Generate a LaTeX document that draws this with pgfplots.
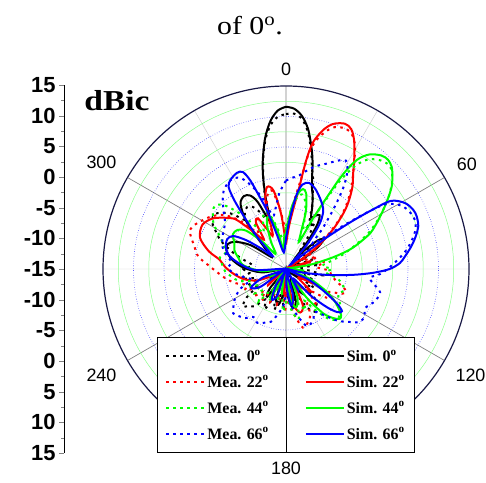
\documentclass[border=0pt]{standalone}
\usepackage{fontspec}
\setmainfont{Liberation Serif}
\setsansfont{Liberation Sans}
\usepackage{pgfplots}
\pgfplotsset{compat=1.18}
\usepgfplotslibrary{polar}
\definecolor{vgreen}{RGB}{0,255,0}
\definecolor{navy}{RGB}{25,25,70}
\pgfplotsset{
  mea/.style={smooth, line width=2bp, dash pattern=on 2.5bp off 4.5bp},
  sim/.style={smooth, line width=2bp},
}
\begin{document}
\begin{tikzpicture}
\useasboundingbox (0,0) rectangle (486bp,483bp);
\node[anchor=base, font=\fontsize{26}{26}\selectfont, xscale=1.15] at (250bp,448bp) {of 0\textsuperscript{o}.};
\node[anchor=base, font=\fontsize{29}{29}\selectfont\bfseries, xscale=1.16] at (117bp,372bp) {dBic};

% radial scale drawn beside the chart
\begin{axis}[
  at={(64bp,30bp)}, anchor=south west,
  scale only axis, width=1bp, height=368bp,
  xmin=0, xmax=1, ymin=0, ymax=60,
  hide x axis, axis y line*=left,
  ytick={0,5,...,60},
  yticklabels={15,10,5,0,-5,-10,-15,-10,-5,0,5,10,15},
  minor y tick num=1,
  tick align=outside,
  major tick length=5bp, minor tick length=3bp,
  y axis line style={line width=0.8bp},
  yticklabel style={font=\fontsize{22}{22}\selectfont\sffamily\bfseries},
]
\end{axis}

\begin{polaraxis}[
  at={(286bp,214bp)}, anchor=center,
  scale only axis, width=366bp, height=366bp,
  xmin=0, xmax=360, ymin=0, ymax=30,
  x filter/.expression={90-x},
  y filter/.expression={y+15},
  xtick={30,90,150,210,270,330},
  xticklabels={60,0,300,240,180,120},
  minor xtick={0,60,120,180,240,300},
  ytick={5,10,15,20,25},
  minor ytick={2.5,7.5,12.5,17.5,22.5,27.5},
  yticklabels={},
  grid=both,
  major x grid style={gray, line width=0.7bp},
  minor x grid style={gray!35, line width=0.5bp},
  major y grid style={blue, dotted, line width=0.6bp},
  minor y grid style={vgreen!45, line width=0.5bp},
  tick style={draw=none},
  x axis line style={draw=navy, line width=1.2bp},
  y axis line style={draw=none},
  xticklabel style={font=\fontsize{18}{18}\selectfont\sffamily, inner sep=10bp},
  legend columns=2,
  legend cell align=left,
  legend image code/.code={\draw[#1] (0bp,0bp) -- (38bp,0bp);},
  legend style={name=leg, at={(0.1475,-0.003)}, anchor=south west,
    draw=black, line width=0.8bp, fill=white,
    font=\fontsize{16}{16}\selectfont\bfseries,
    inner xsep=8bp, inner ysep=10bp, row sep=9bp,
    /tikz/every even column/.append style={column sep=34bp}},
]
\addplot[mea, black] coordinates {(0,10.4)(3,10.5)(6,9.8)(9,7.8)(12,4.8)(14.5,2)(16.5,0.6)(19,-1.5)(22,-3.5)(25,-5.5)(28,-7.4)(31,-6)(34,-8)(37,-11)(40,-9)(44,-12)(48,-9)(52,-10.5)(56,-13)(60,-11)(65,-14)(70,-10)(76,-12)(82,-9.5)(88,-13)(94,-11)(100,-9)(106,-12)(112,-10)(118,-13)(124,-9.5)(130,-11)(136,-8)(142,-7)(148,-6.7)(154,-9)(160,-12)(166,-8.5)(172,-10)(178,-13)(184,-9)(190,-11)(196,-8)(202,-10)(208,-7.5)(214,-9)(220,-7)(225,-6.5)(229,-5.6)(234,-7)(240,-9.5)(246,-8)(252,-10)(258,-7.5)(264,-9)(270,-8)(276,-9.5)(282,-8)(287,-6)(293,-3.5)(298,-2)(303,-0.5)(308,-0.3)(313,-1.5)(316,-2.5)(320,-4.5)(324,-3.5)(328,-3)(332,-3.5)(336,-5)(339,-6.5)(342,-5)(345,-1)(348,3)(351,6.5)(354,8.8)(357,10)(360,10.4)};
\addlegendentry{Mea. 0\textsuperscript{o}}
\addplot[sim, black] coordinates {(0,11.6)(3,11.3)(6,10.2)(9,8.2)(12,5.2)(14,3)(16,0.5)(18,-1.2)(20,-2.2)(23,-4)(26,-5.6)(29,-5)(32,-4.6)(35,-6)(38,-9)(41,-13)(44,-11)(48,-8)(52,-7.2)(56,-9)(60,-13)(65,-15)(75,-12)(85,-15)(100,-11.5)(112,-15)(125,-12)(135,-15)(148,-10.5)(156,-13)(163,-9.5)(170,-8.5)(176,-10.5)(181,-15)(186,-11)(192,-9)(198,-9.8)(205,-13)(214,-9.5)(220,-11)(228,-15)(240,-12)(250,-15)(262,-11)(272,-8)(280,-6)(287,-4.8)(293,-4.6)(298,-5.5)(304,-8)(310,-12)(315,-10)(320,-5)(325,-2)(330,-1.2)(334,-1.6)(337,-3)(340,-6)(342,-6.5)(344,-3)(346,0.5)(348,3.3)(351,6.8)(354,9.4)(357,11)(360,11.6)};
\addlegendentry{Sim. 0\textsuperscript{o}}
\addplot[mea, red] coordinates {(0,-9)(4,-6)(7,-3.5)(9.5,0)(11,4)(13,6.5)(16,8.4)(19,9.6)(23,10)(26,9.6)(29,8.3)(32,6.2)(35,4.2)(38,2.5)(41,0.8)(44,-1)(47,-3)(50,-5.5)(54,-8)(58,-10)(63,-12)(68,-9.5)(74,-11)(80,-8.5)(86,-10)(92,-8)(98,-7.5)(104,-6.4)(110,-4.5)(114,-5)(118,-7)(123,-6)(128,-8)(134,-10)(140,-7)(146,-9)(152,-6.5)(158,-5.5)(164,-5)(170,-7.5)(176,-10)(182,-8)(188,-11)(194,-9)(200,-12)(206,-9)(212,-11)(218,-8.5)(224,-10)(230,-8)(236,-9.5)(242,-7.5)(248,-8)(254,-6.5)(260,-5.2)(266,-4)(272,-2.5)(278,-0.5)(284,0.5)(289,1.5)(292,2)(296,1.6)(300,0.9)(305,0)(310,-1.2)(314,-2.8)(318,-5)(322,-7.5)(326,-6)(330,-5.5)(334,-7)(338,-9)(342,-5)(346,-2.5)(350,-2)(354,-5)(358,-8)(360,-9)};
\addlegendentry{Mea. 22\textsuperscript{o}}
\addplot[sim, red] coordinates {(0,-11)(4,-8)(7,-5)(9,-2)(10.5,3)(12,6.2)(15,8.6)(18,10)(22,10.7)(25,10.3)(28,8.8)(32,6.1)(35,4.2)(39,2.3)(43,0)(46,-2)(50,-5)(54,-8.5)(58,-12)(64,-15)(72,-11)(80,-13)(90,-15)(100,-12)(110,-14)(118,-10)(125,-12.5)(132,-9.5)(140,-11)(147,-13)(155,-8.5)(162,-7.5)(168,-9)(174,-13)(180,-10.5)(186,-11.5)(194,-15)(205,-12)(215,-15)(228,-11)(238,-13)(248,-10)(256,-8)(264,-6.5)(272,-5)(278,-4)(283,-2)(290,0)(298,0.5)(305,-0.5)(312,-2.5)(315,-3.7)(319,-7)(323,-9)(327,-6)(331,-5.5)(335,-8)(339,-9)(343,-3.5)(347,-1.2)(351,-2)(355,-6)(360,-11)};
\addlegendentry{Sim. 22\textsuperscript{o}}
\addplot[mea, vgreen] coordinates {(0,-8)(4,-6)(8,-3.5)(12,-2.5)(16,-3.5)(20,-6)(24,-8)(27,-7)(29.5,-3)(31.5,2)(34,5.5)(37,7.5)(41,8.6)(45,9)(48,8.4)(51,7.3)(54,6)(57,4.5)(60,3)(63,1.5)(66,0)(69,-1.8)(72,-3.5)(76,-5.5)(80,-7.5)(85,-9)(90,-7.5)(95,-8.5)(100,-6.5)(105,-5.5)(110,-4.8)(115,-5.5)(120,-5)(125,-4)(130,-3.5)(135,-3.2)(140,-4.5)(145,-7)(150,-9)(155,-7.5)(160,-9)(166,-6.5)(172,-8)(178,-10)(184,-8)(190,-11)(196,-9.5)(202,-12)(208,-9)(214,-11)(220,-8)(226,-10)(232,-8.5)(238,-10)(244,-8.5)(250,-9)(256,-7)(262,-6)(268,-5)(274,-4.5)(280,-4)(286,-4.8)(292,-3.8)(296,-3)(302,-1)(308,0.2)(312,0.6)(316,-0.5)(320,-3)(324,-6)(328,-8)(332,-7)(337,-5.5)(341,-5)(345,-6.5)(350,-9)(355,-10)(360,-8)};
\addlegendentry{Mea. 44\textsuperscript{o}}
\addplot[sim, vgreen] coordinates {(0,-9)(5,-5)(9,-2.5)(12,-1.6)(15,-2.2)(19,-5)(23,-9)(26,-10)(28,-6)(29.5,-2)(31,3)(33,6.3)(36,8.2)(40,9.3)(43,9.5)(46,9.1)(49,8.1)(52,7)(55,5.5)(58,4)(61,2.6)(64,1.3)(67,0)(70,-2)(73,-4)(76,-7)(80,-11)(85,-15)(95,-12)(104,-15)(112,-11)(118,-8)(122,-6)(126,-4.5)(130,-3.2)(133,-3)(136,-3.8)(140,-5.5)(144,-9)(150,-13)(158,-10)(165,-8.5)(172,-10)(180,-15)(190,-11)(198,-13)(208,-10)(218,-13)(230,-15)(245,-12)(255,-15)(265,-11)(275,-8)(283,-7)(290,-6)(297,-5.5)(303,-4.6)(309,-4.8)(314,-6)(319,-9)(325,-12)(331,-10)(336,-7.5)(340,-6)(344,-6.5)(348,-9)(352,-12)(356,-10)(360,-9)};
\addlegendentry{Sim. 44\textsuperscript{o}}
\addplot[mea, blue] coordinates {(0,-0.5)(4,0)(8,0.5)(12,1.5)(16,2.5)(21,3.5)(26,4.8)(29,5.3)(32,4)(35,1.5)(38,-2)(42,-6)(46,-9)(50,-7)(53,-3)(55,1)(57,4.5)(61,6.5)(65,7.3)(69,7.6)(73,7.2)(77,6.2)(81,5)(85,3.5)(89,2)(93,0.5)(96,-1.2)(100,-0.3)(104,0.9)(110,0.5)(116,-0.5)(121,0)(125.6,-0.1)(130,-1.5)(135,-3)(140,-5)(146,-6.5)(152,-5.5)(158,-5)(161,-5.3)(166,-7)(172,-9)(178,-11)(184,-9)(190,-7.5)(196,-6)(202,-5.5)(208,-5)(214,-5.5)(220,-4.5)(226,-4)(230,-3.7)(235,-4.5)(241,-5.5)(247,-7)(253,-9)(259,-8)(265,-6.5)(271,-5.5)(277,-6)(283,-5)(289,-4)(295,-3.5)(301,-3)(307,-2.5)(313,-1)(318,0.5)(322,1.5)(326,2)(330,2.2)(334,1.5)(338,-0.5)(342,-3)(346,-6)(350,-5)(355,-2.5)(360,-0.5)};
\addlegendentry{Mea. 66\textsuperscript{o}}
\addplot[sim, blue] coordinates {(0,-10)(4,-7)(8,-2.8)(11,-0.9)(15,-0.4)(20,-1)(25,-2)(29,-2.8)(33,-3.8)(37,-6)(41,-10)(45,-14)(49,-12)(52,-7)(54,-2)(55.5,2)(57,5.5)(61,7.3)(65,8)(68,8.1)(72,7.8)(76,6.9)(80,5.8)(84,4.6)(87,3.7)(90,2)(92.5,-0.7)(95,-4)(98,-8)(102,-12)(108,-15)(115,-11)(120,-8)(124,-5)(127,-3.5)(130,-4)(133,-5.8)(137,-9)(142,-13)(150,-11)(158,-15)(165,-10.5)(172,-9)(178,-12)(188,-15)(198,-10.5)(205,-9.5)(212,-12)(222,-15)(235,-10)(242,-8.5)(250,-11)(258,-15)(268,-10)(276,-7.5)(283,-5.5)(290,-4.5)(297,-4.2)(302,-4.8)(306,-7)(310,-10)(314,-12)(318,-8)(321,-4.5)(323,-1)(325,1.4)(328,2.2)(333,2.7)(336,2.4)(338,0.7)(340,-2.5)(342,-5)(345,-9)(350,-12)(355,-12)(360,-10)};
\addlegendentry{Sim. 66\textsuperscript{o}}
\end{polaraxis}
\draw[line width=0.8bp] (leg.north) -- (leg.south);
\end{tikzpicture}
\end{document}
